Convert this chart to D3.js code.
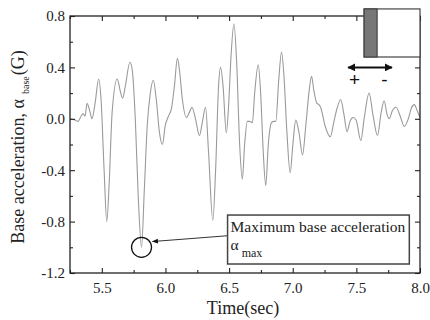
<!DOCTYPE html>
<html>
<head>
<meta charset="utf-8">
<script src="https://cdn.jsdelivr.net/npm/d3@7"></script>
<style>
  body { margin: 0; background: #fff; }
  svg { display: block; }
  svg text { font-family: "Liberation Serif", "Times New Roman", serif; }
</style>
</head>
<body>
<div id="chart"></div>
<script>
// time (sec) and base acceleration (G)
const times = [5.250, 5.289, 5.313, 5.337, 5.353, 5.368, 5.384, 5.408, 5.423, 5.447,
  5.475, 5.494, 5.518, 5.539, 5.558, 5.581, 5.621, 5.644, 5.664, 5.684,
  5.721, 5.739, 5.763, 5.786, 5.812, 5.834, 5.857, 5.881, 5.905, 5.928,
  5.952, 5.976, 5.999, 6.023, 6.047, 6.070, 6.094, 6.110, 6.133, 6.165,
  6.188, 6.208, 6.236, 6.267, 6.291, 6.315, 6.338, 6.372, 6.394, 6.417,
  6.433, 6.453, 6.478, 6.496, 6.516, 6.538, 6.559, 6.583, 6.604, 6.622,
  6.644, 6.662, 6.683, 6.701, 6.729, 6.748, 6.768, 6.788, 6.808, 6.833,
  6.851, 6.867, 6.890, 6.912, 6.930, 6.954, 6.980, 7.001, 7.024, 7.048,
  7.077, 7.103, 7.127, 7.148, 7.166, 7.190, 7.206, 7.222, 7.253, 7.295,
  7.324, 7.348, 7.377, 7.403, 7.427, 7.450, 7.474, 7.498, 7.535, 7.561,
  7.600, 7.632, 7.666, 7.695, 7.718, 7.742, 7.758, 7.782, 7.811, 7.845,
  7.876, 7.908, 7.931, 7.955, 7.979, 8.000]
const accel = [0.00, -0.01, -0.02, 0.02, 0.04, 0.02, 0.12, 0.05, 0.00, 0.12,
  0.31, 0.15, -0.40, -0.80, -0.50, 0.05, 0.31, 0.22, 0.16, 0.25,
  0.44, 0.38, 0.00, -0.60, -1.00, -0.55, -0.05, 0.20, 0.30, 0.15,
  -0.10, -0.20, -0.05, 0.02, 0.08, 0.25, 0.47, 0.38, 0.15, 0.01,
  0.05, 0.09, 0.00, -0.13, -0.02, 0.09, -0.25, -0.79, -0.40, 0.25,
  0.40, 0.25, -0.11, 0.10, 0.50, 0.74, 0.45, -0.20, -0.47, -0.20,
  -0.02, -0.02, -0.03, 0.20, 0.42, 0.20, -0.25, -0.52, -0.20, -0.03,
  -0.02, -0.02, 0.30, 0.52, 0.35, -0.10, -0.42, -0.20, -0.01, -0.10,
  -0.28, -0.05, 0.20, 0.33, 0.22, 0.12, 0.11, 0.08, -0.05, -0.14,
  -0.02, 0.08, 0.15, 0.03, -0.10, -0.02, 0.01, -0.01, -0.17, 0.00,
  0.20, 0.02, -0.13, 0.05, 0.14, 0.03, 0.00, 0.06, 0.09, 0.02,
  -0.06, 0.00, 0.08, 0.11, 0.06, 0.01]

const xTicks = [5.5, 6.0, 6.5, 7.0, 7.5, 8.0]
const xMinor = [5.25, 5.75, 6.25, 6.75, 7.25, 7.75]
const yTicks = [-1.2, -0.8, -0.4, 0.0, 0.4, 0.8]
const yMinor = [-1.0, -0.6, -0.2, 0.2, 0.6]

// annotation anchors in data units
const peakT = 5.812, peakA = -1.0
const noteBox = { t0: 6.488, t1: 7.916, a0: -0.749, a1: -1.130 }
const noteText = 'Maximum base acceleration'

const serif = '"Liberation Serif", "Times New Roman", serif'
const margin = { top: 16, right: 10, bottom: 47, left: 70 }
const W = 430, H = 320
const width = W - margin.left - margin.right
const height = H - margin.top - margin.bottom

const svg = d3.select('#chart').append('svg')
  .attr('width', W).attr('height', H)
const g = svg.append('g').attr('transform', `translate(${margin.left},${margin.top})`)

const x = d3.scaleLinear().domain([5.25, 8.0]).range([0, width])
const y = d3.scaleLinear().domain([-1.2, 0.8]).range([height, 0])
const fmt = d => d.toFixed(1)

// trace
const data = times.map((t, i) => ({ t, a: accel[i] }))
const line = d3.line().x(d => x(d.t)).y(d => y(d.a)).curve(d3.curveMonotoneX)
g.append('path').datum(data)
  .attr('d', line)
  .attr('fill', 'none')
  .attr('stroke', '#9a9a9a')
  .attr('stroke-width', 1.1)

// axes, ticks pointing inward
function drawAxis(axis, tr, labels) {
  const a = g.append('g').attr('transform', tr).call(axis)
  a.select('.domain').remove()
  a.selectAll('line').attr('stroke', '#222').attr('stroke-width', 1.1)
  if (!labels) a.selectAll('text').remove()
  else a.selectAll('text').attr('fill', '#222').style('font-family', serif)
  return a
}
const bx = drawAxis(d3.axisBottom(x).tickValues(xTicks).tickFormat(fmt).tickSize(-5).tickPadding(9), `translate(0,${height})`, true)
bx.selectAll('text').style('font-size', '15px').attr('dy', '0.75em')
drawAxis(d3.axisBottom(x).tickValues(xMinor).tickSize(-3), `translate(0,${height})`, false)
drawAxis(d3.axisTop(x).tickValues(xTicks).tickSize(-5), 'translate(0,0)', false)
drawAxis(d3.axisTop(x).tickValues(xMinor).tickSize(-3), 'translate(0,0)', false)

const ly = drawAxis(d3.axisLeft(y).tickValues(yTicks).tickFormat(fmt).tickSize(-5).tickPadding(5), 'translate(0,0)', true)
ly.selectAll('text').style('font-size', '15px')
drawAxis(d3.axisLeft(y).tickValues(yMinor).tickSize(-3), 'translate(0,0)', false)
drawAxis(d3.axisRight(y).tickValues(yTicks).tickSize(-5), `translate(${width},0)`, false)
drawAxis(d3.axisRight(y).tickValues(yMinor).tickSize(-3), `translate(${width},0)`, false)

g.append('rect')
  .attr('width', width).attr('height', height)
  .attr('fill', 'none').attr('stroke', '#222').attr('stroke-width', 1.3)

// axis titles
svg.append('text')
  .attr('x', margin.left + width / 2 - 2)
  .attr('y', 314)
  .attr('text-anchor', 'middle')
  .attr('font-size', 18)
  .attr('fill', '#222')
  .text('Time(sec)')

const yt = svg.append('text')
  .attr('transform', `translate(24,147) rotate(-90)`)
  .attr('text-anchor', 'middle')
  .attr('font-size', 18)
  .attr('fill', '#222')
yt.append('tspan').text('Base acceleration, \u03b1')
yt.append('tspan').attr('font-size', 10).attr('dy', 5).attr('dx', 5).text('base')
yt.append('tspan').attr('dy', -5).attr('dx', 1).text('(G)')

// inset: base block with +/- direction
const inset = g.append('g')
inset.append('rect')
  .attr('x', x(7.561)).attr('y', y(0.855))
  .attr('width', x(8.0) - x(7.561)).attr('height', y(0.481) - y(0.855))
  .attr('fill', '#fff').attr('stroke', '#444').attr('stroke-width', 1.2)
inset.append('rect')
  .attr('x', x(7.561)).attr('y', y(0.855))
  .attr('width', x(7.663) - x(7.561)).attr('height', y(0.481) - y(0.855))
  .attr('fill', '#777').attr('stroke', '#444').attr('stroke-width', 1.2)

const defs = svg.append('defs')
defs.append('marker').attr('id', 'head2')
  .attr('viewBox', '0 0 10 10').attr('refX', 9).attr('refY', 5)
  .attr('markerWidth', 4).attr('markerHeight', 4).attr('orient', 'auto-start-reverse')
  .append('path').attr('d', 'M0,0 L10,5 L0,10 z').attr('fill', '#111')
defs.append('marker').attr('id', 'head1')
  .attr('viewBox', '0 0 10 10').attr('refX', 9).attr('refY', 5)
  .attr('markerWidth', 7).attr('markerHeight', 6).attr('orient', 'auto')
  .append('path').attr('d', 'M0,1 L10,5 L0,9 z').attr('fill', '#111')

inset.append('line')
  .attr('x1', x(7.435)).attr('x2', x(7.78))
  .attr('y1', y(0.4)).attr('y2', y(0.4))
  .attr('stroke', '#111').attr('stroke-width', 2)
  .attr('marker-start', 'url(#head2)').attr('marker-end', 'url(#head2)')
inset.append('text')
  .attr('x', x(7.485)).attr('y', y(0.255))
  .attr('text-anchor', 'middle')
  .style('font-family', '"Liberation Sans", Arial, sans-serif')
  .attr('font-size', 19).attr('fill', '#111')
  .text('+')
inset.append('text')
  .attr('x', x(7.72)).attr('y', y(0.255))
  .attr('text-anchor', 'middle')
  .style('font-family', '"Liberation Sans", Arial, sans-serif')
  .attr('font-size', 19).attr('fill', '#111')
  .text('-')

// annotation: circled peak, arrow and note box
g.append('circle')
  .attr('cx', x(peakT)).attr('cy', y(peakA))
  .attr('r', 10)
  .attr('fill', 'none').attr('stroke', '#111').attr('stroke-width', 1.3)
g.append('line')
  .attr('x1', x(noteBox.t0)).attr('y1', y(-0.91))
  .attr('x2', x(peakT) + 11).attr('y2', y(-0.955))
  .attr('stroke', '#333').attr('stroke-width', 1)
  .attr('marker-end', 'url(#head1)')
g.append('rect')
  .attr('x', x(noteBox.t0)).attr('y', y(noteBox.a0))
  .attr('width', x(noteBox.t1) - x(noteBox.t0))
  .attr('height', y(noteBox.a1) - y(noteBox.a0))
  .attr('fill', '#fff').attr('stroke', '#444').attr('stroke-width', 1.5)
g.append('text')
  .attr('x', x(noteBox.t0) + 3).attr('y', y(noteBox.a0) + 17)
  .attr('font-size', 15.5).attr('fill', '#222')
  .text(noteText)
const am = g.append('text')
  .attr('x', x(noteBox.t0) + 3).attr('y', y(noteBox.a0) + 35)
  .attr('font-size', 15.5).attr('fill', '#222')
am.append('tspan').text('\u03b1')
am.append('tspan').attr('font-size', 12).attr('dy', 7).attr('dx', 3).text('max')
</script>
</body>
</html>
